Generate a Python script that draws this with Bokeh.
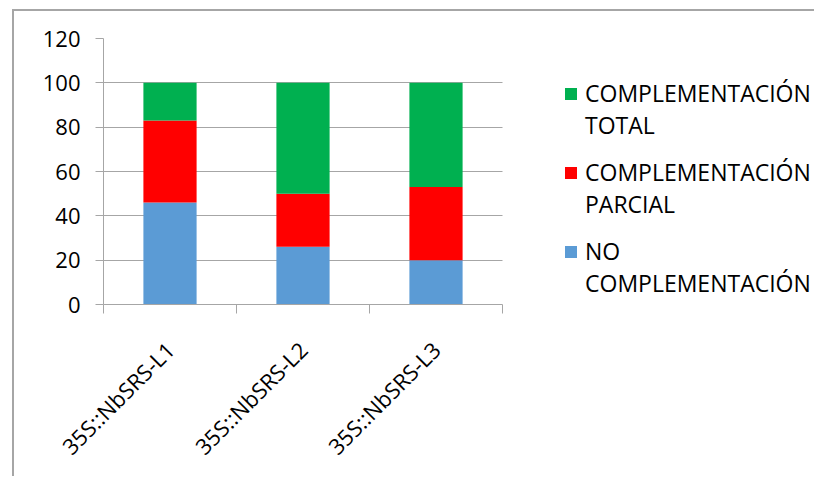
import math
from bokeh.plotting import figure
from bokeh.models import (Range1d, FixedTicker, LinearAxis, Legend, LegendItem,
                          CustomJSTickFormatter, ColumnDataSource)
from bokeh.embed import file_html
from bokeh.resources import INLINE

# ---- data ----
categories = ["35S::NbSRS-L1", "35S::NbSRS-L2", "35S::NbSRS-L3"]
no_complementacion = [46, 26, 20]
complementacion_parcial = [37, 24, 33]
complementacion_total = [17, 50, 47]
y_ticks = [0, 20, 40, 60, 80, 100, 120]
series_keys = ["no", "parcial", "total"]
# legend text, one list of lines per series (same order as series_keys)
series_label_lines = [["NO", "COMPLEMENTACIÓN"],
                      ["COMPLEMENTACIÓN", "PARCIAL"],
                      ["COMPLEMENTACIÓN", "TOTAL"]]
series_colors = ["#5b9bd5", "#ff0000", "#00b050"]

FONT = "Open Sans"
GRID = "#a6a6a6"

# layout (pixels)
FIG_W, FIG_H = 802, 467
LEFT, TOP, RIGHT = 89, 27, 0
FRAME_H = 266
BOTTOM = FIG_H - TOP - FRAME_H
CAT_PX = 399                      # width occupied by the categories
FRAME_W = FIG_W - LEFT - RIGHT
n = len(categories)
x_end = n * FRAME_W / CAT_PX

x_pos = [i + 0.5 for i in range(n)]
source = ColumnDataSource(dict(x=x_pos, no=no_complementacion,
                               parcial=complementacion_parcial,
                               total=complementacion_total))

p = figure(width=FIG_W, height=FIG_H, output_backend="svg", toolbar_location=None,
           x_range=Range1d(0, x_end), y_range=Range1d(0, 120),
           min_border_left=LEFT, min_border_top=TOP, min_border_bottom=BOTTOM,
           min_border_right=RIGHT)
p.margin = (9, 0, 0, 12)
p.styles = {"border-left": "2px solid #a6a6a6", "border-top": "2px solid #a6a6a6"}
p.outline_line_color = None
p.background_fill_color = "white"

renderers = p.vbar_stack(series_keys, x="x", width=0.4, source=source,
                         color=series_colors, line_color=None)
blank = p.vbar(x=[], top=[], width=0.4, fill_color=None, line_color=None)

# y axis
p.yaxis.ticker = FixedTicker(ticks=y_ticks)
p.yaxis.major_tick_out = 8
p.yaxis.major_tick_in = 0
p.yaxis.minor_tick_line_color = None
p.yaxis.axis_line_color = GRID
p.yaxis.major_tick_line_color = GRID
p.yaxis.major_label_text_font = FONT
p.yaxis.major_label_text_font_size = "22px"
p.yaxis.major_label_text_color = "black"
p.yaxis.major_label_standoff = 15

# x axis: boundary ticks, no labels
p.xaxis.ticker = FixedTicker(ticks=list(range(n + 1)))
p.xaxis.bounds = (0, n)
p.xaxis.formatter = CustomJSTickFormatter(code="return ''")
p.xaxis.major_tick_out = 9
p.xaxis.major_tick_in = 0
p.xaxis.minor_tick_line_color = None
p.xaxis.axis_line_color = GRID
p.xaxis.major_tick_line_color = GRID
p.xaxis.major_label_standoff = 0
p.xaxis.major_label_text_font_size = "1px"

# x axis: category labels
lab_axis = LinearAxis(ticker=FixedTicker(ticks=x_pos),
                      major_label_overrides={x: c for x, c in zip(x_pos, categories)},
                      axis_line_color=None, major_tick_line_color=None,
                      major_tick_out=0, major_tick_in=0,
                      minor_tick_line_color=None, minor_tick_out=0,
                      major_label_orientation=math.pi / 4,
                      major_label_text_font=FONT,
                      major_label_text_font_size="22px",
                      major_label_text_color="black",
                      major_label_standoff=32)
p.add_layout(lab_axis, "below")

p.xgrid.grid_line_color = None
p.ygrid.ticker = FixedTicker(ticks=y_ticks)
p.ygrid.grid_line_color = GRID
p.ygrid.cross_bounds = (0, n)

# legend: one block per series, top block = last series
legend_y = [5, 84, 163]   # pixel offsets of the blocks above the frame bottom
for i in range(n):
    lines = series_label_lines[i]
    items = [LegendItem(label=lines[0], renderers=[renderers[i]]),
             LegendItem(label=lines[1], renderers=[blank])]
    lg = Legend(items=items, location=(460, legend_y[i]),
                label_text_font=FONT, label_text_font_size="23px",
                label_text_color="black", label_height=32,
                glyph_width=15, glyph_height=15, spacing=0, label_standoff=7,
                border_line_color=None, background_fill_alpha=0,
                padding=0, margin=0)
    p.add_layout(lg, "center")

open("out.html", "w").write(file_html(p, INLINE))
